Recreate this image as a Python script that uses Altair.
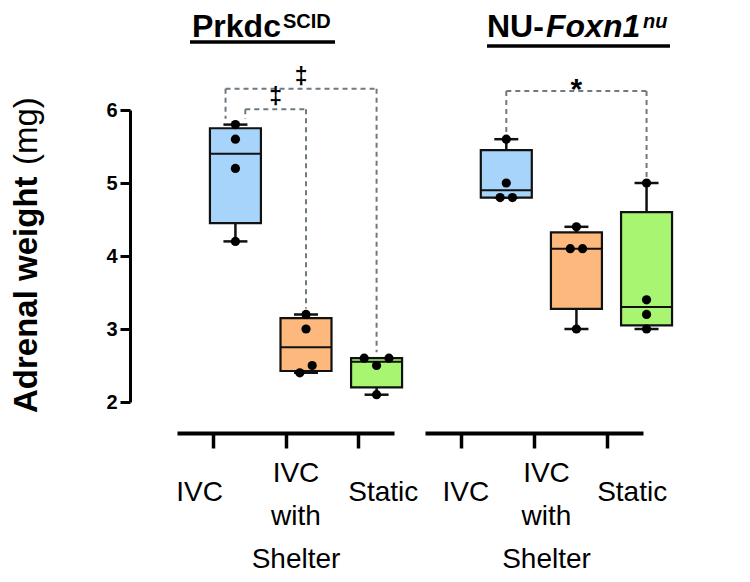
import altair as alt
import numpy as np
import pandas as pd

# ---------------- data ----------------
housing = ["IVC", "IVC with Shelter", "Static"]
box_colors = ["#A6D4FA", "#FDB97D", "#A8F571"]

prkdc_ivc = [5.8, 5.6, 5.2, 4.2]
prkdc_shelter = [3.2, 3.0, 2.5, 2.4]
prkdc_static = [2.6, 2.6, 2.5, 2.1]

nu_ivc = [5.6, 5.0, 4.8, 4.8]
nu_shelter = [4.4, 4.1, 4.1, 3.0]
nu_static = [5.0, 3.4, 3.2, 3.0]

prkdc_pairs = [("IVC", "Static"), ("IVC", "IVC with Shelter")]
prkdc_bracket_tops = [6.29, 6.01]
prkdc_marks = ["\u2021", "\u2021"]

nu_pairs = [("IVC", "Static")]
nu_bracket_tops = [6.26]
nu_marks = ["*"]

y_ticks = [2, 3, 4, 5, 6]
y_title_bold = "Adrenal weight"
y_title_unit = "(mg)"

# ---------------- layout constants ----------------
FONT = "Liberation Sans"
PLOT_H = 292
PX_Y = PLOT_H / 4.0
PX_X = 74.0
BOX_W = 51
CAP_W = 24


def swarm(vals, dot=10.0, step=6.5):
    """Prism-like horizontal spreading of overlapping dots (in x units)."""
    vals = np.asarray(vals, float)
    order = np.argsort(vals, kind="stable")
    placed = []
    offs = np.zeros(len(vals))
    cands = [0.0] + [s * k * step for k in range(1, 6) for s in (1, -1)]
    for i in order:
        ypx = vals[i] * PX_Y
        chosen = cands[-1]
        for c in cands:
            if all(np.hypot(c - px, ypx - py) >= dot for py, px in placed):
                chosen = c
                break
        offs[i] = chosen
        placed.append((ypx, chosen))
    idx = list(order)
    clusters = [[idx[0]]]
    for a, b in zip(idx, idx[1:]):
        if (vals[b] - vals[a]) * PX_Y < dot:
            clusters[-1].append(b)
        else:
            clusters.append([b])
    for cl in clusters:
        offs[cl] -= offs[cl].mean()
    return offs / PX_X


def panel_chart(vals_list, pairs, tops, marks, x_domain, width, show_y,
                label_offsets, title_parts, underline):
    rows, pts = [], []
    for i, (h, v) in enumerate(zip(housing, vals_list)):
        v = np.asarray(v, float)
        q1, med, q3 = np.quantile(v, [0.25, 0.5, 0.75], method="weibull")
        rows.append(dict(housing=h, pos=i, lo=v.min(), q1=q1, med=med, q3=q3, hi=v.max()))
        for val, o in zip(v, swarm(v)):
            pts.append(dict(housing=h, x=i + o, val=val))
    box = pd.DataFrame(rows)
    pts = pd.DataFrame(pts)
    gmax = {h: max(v) for h, v in zip(housing, vals_list)}

    # significance brackets
    segs, syms = [], []
    order = sorted(range(len(pairs)), key=lambda k: -tops[k])
    by_left = {}
    for k in order:
        by_left.setdefault(pairs[k][0], []).append(k)
    shift = {}
    for left, ks in by_left.items():
        m = len(ks)
        for j, k in enumerate(ks):
            shift[k] = 0.0 if m == 1 else -0.14 + 0.28 * j / (m - 1)
    for k in order:
        a, b = pairs[k]
        xl = housing.index(a) + shift[k]
        xr = housing.index(b)
        t = tops[k]
        segs.append(dict(x=xl, x2=xl, y=t, y2=gmax[a] + 0.08))
        segs.append(dict(x=xl, x2=xr, y=t, y2=t))
        segs.append(dict(x=xr, x2=xr, y=t, y2=gmax[b] + 0.08))
        syms.append(dict(x=(xl + xr) / 2, y=t, label=marks[k]))
    segs = pd.DataFrame(segs)
    syms = pd.DataFrame(syms)

    xs = alt.Scale(domain=x_domain, nice=False, zero=False)
    ys = alt.Scale(domain=[2, 6], nice=False, zero=False)
    if show_y:
        yaxis = alt.Axis(values=y_ticks, offset=47, title=None, grid=False,
                         domainWidth=3, domainColor="black", tickWidth=3,
                         tickColor="black", tickSize=10, labelFont=FONT,
                         labelFontSize=20, labelFontWeight="bold",
                         labelColor="black", labelPadding=3)
    else:
        yaxis = None

    def Y(f):
        return alt.Y(f, type="quantitative", scale=ys, axis=yaxis)

    def X(f):
        return alt.X(f, type="quantitative", scale=xs, axis=None)

    base = alt.Chart(box)
    whisk_lo = base.mark_rule(color="#111", strokeWidth=2.5).encode(
        x=X("pos"), y=Y("lo"), y2="q1")
    whisk_hi = base.mark_rule(color="#111", strokeWidth=2.5).encode(
        x=X("pos"), y=Y("q3"), y2="hi")
    caps = base.transform_fold(["lo", "hi"], as_=["which", "v"]).mark_tick(
        size=CAP_W, thickness=2.5, orient="horizontal", color="#111", opacity=1
    ).encode(x=X("pos"), y=Y("v"))
    boxes = base.mark_bar(size=BOX_W, stroke="#111", strokeWidth=2.2,
                          orient="vertical", opacity=1).encode(
        x=X("pos"), y=Y("q1"), y2="q3",
        color=alt.Color("housing:N", scale=alt.Scale(domain=housing, range=box_colors),
                        legend=None))
    medians = base.mark_tick(size=BOX_W, thickness=2, orient="horizontal",
                             color="#111", opacity=1).encode(x=X("pos"), y=Y("med"))
    dots = alt.Chart(pts).mark_circle(size=85, color="black", opacity=1).encode(
        x=X("x"), y=Y("val"))
    brackets = alt.Chart(segs).mark_rule(strokeDash=[5, 4], strokeWidth=2,
                                         color="#6E7A80").encode(
        x=X("x"), x2="x2", y=Y("y"), y2="y2")
    sym_layers = []
    sym_style = {"\u2021": dict(fontSize=23, dy=-5), "*": dict(fontSize=30, dy=8)}
    for s in syms["label"].unique():
        st = sym_style.get(s, dict(fontSize=24, dy=-4))
        sym_layers.append(
            alt.Chart(syms).transform_filter(alt.datum.label == s).mark_text(
                font=FONT, fontWeight="bold", color="black", baseline="alphabetic",
                align="center", **st).encode(x=X("x"), y=Y("y"), text="label:N"))

    data_layer = alt.layer(whisk_lo, whisk_hi, caps, boxes, medians, dots,
                           brackets, *sym_layers)

    lo_first, lo_mid, lo_last = label_offsets
    label_offset = {
        "condition": [
            {"test": f"datum.value == '{housing[0]}'", "value": lo_first},
            {"test": f"datum.value == '{housing[-1]}'", "value": lo_last},
        ],
        "value": lo_mid,
    }
    axis_layer = alt.Chart(pd.DataFrame({"housing": housing})).mark_point(
        opacity=0).encode(
        x=alt.X("housing:N", sort=housing, scale=alt.Scale(padding=0.5),
                axis=alt.Axis(title=None, domainWidth=4, domainColor="black",
                              tickWidth=3.5, tickColor="black", tickSize=15,
                              labelFont=FONT, labelFontSize=28, labelColor="black",
                              labelAngle=0, labelBaseline="top", labelLineHeight=43,
                              labelExpr="split(datum.label, ' ')",
                              labelPadding=alt.condition("indexof(datum.value, ' ') >= 0",
                                                         alt.value(11), alt.value(30)),
                              labelOffset=label_offset, labelOverlap=False,
                              labelFlush=False, offset=31, labelLimit=400)),
        y=alt.value(0))

    extra = []
    for text, size, italic, dx, dy in title_parts:
        extra.append(alt.Chart(pd.DataFrame({"t": [text]})).mark_text(
            font=FONT, fontSize=size, fontWeight="bold",
            fontStyle="italic" if italic else "normal", align="left",
            baseline="alphabetic", color="black").encode(
            text="t:N", x=alt.value(dx), y=alt.value(dy)))
    ux0, ux1, uy = underline
    extra.append(alt.Chart(pd.DataFrame({"a": [0]})).mark_rule(
        color="black", strokeWidth=3.5).encode(
        x=alt.value(ux0), x2=alt.value(ux1), y=alt.value(uy)))
    if show_y:
        extra.append(alt.Chart(pd.DataFrame({"t": [y_title_bold]})).mark_text(
            font=FONT, fontSize=33, fontWeight="bold", angle=270, align="left",
            baseline="alphabetic", color="black").encode(
            text="t:N", x=alt.value(-140), y=alt.value(303)))
        extra.append(alt.Chart(pd.DataFrame({"t": [y_title_unit]})).mark_text(
            font=FONT, fontSize=33, fontWeight="normal", angle=270, align="left",
            baseline="alphabetic", color="black").encode(
            text="t:N", x=alt.value(-140), y=alt.value(55)))

    return alt.layer(data_layer, axis_layer, *extra).resolve_scale(
        x="independent").properties(width=width, height=PLOT_H)


p1 = panel_chart([prkdc_ivc, prkdc_shelter, prkdc_static], prkdc_pairs,
                 prkdc_bracket_tops, prkdc_marks, [-0.757, 2.176], 217, True,
                 (-14, 10, 25),
                 [("Prkdc", 32, False, 15, -73), ("SCID", 20, False, 106, -82)],
                 (13, 158, -68))
p2 = panel_chart([nu_ivc, nu_shelter, nu_static], nu_pairs,
                 nu_bracket_tops, nu_marks, [-1.088, 1.878], 218, False,
                 (4, 12, 25),
                 [("NU-", 32, False, 62, -73), ("Foxn1", 32, True, 121, -73),
                  ("nu", 20, True, 218, -82)],
                 (62, 245, -64))

chart = alt.hconcat(p1, p2, spacing=31, bounds="flush", background="white",
                    padding={"left": 3, "top": 3, "right": 0, "bottom": 0}
                    ).configure_view(strokeWidth=0, stroke=None)

chart.save("out.html", embed_options={"renderer": "svg", "actions": False})
